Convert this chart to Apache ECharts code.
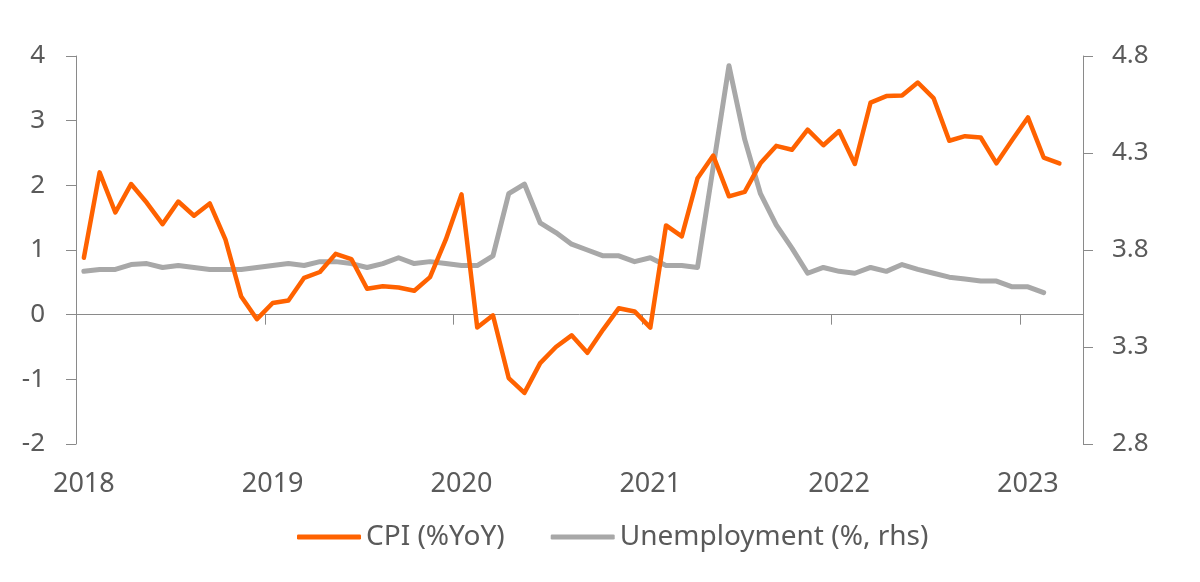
<!DOCTYPE html>
<html>
<head>
<meta charset="utf-8">
<script src="https://cdn.jsdelivr.net/npm/echarts@6/dist/echarts.min.js"></script>
<style>
  html, body { margin: 0; padding: 0; background: #ffffff; }
  #chart { width: 1200px; height: 582px; }
</style>
</head>
<body>
<div id="chart"></div>
<script>
// Monthly categories Jan 2018 .. Apr 2023
const years = ['2018', '2019', '2020', '2021', '2022', '2023'];
const months = [];
years.forEach(function (y) {
  for (let m = 1; m <= 12; m++) {
    if (y === '2023' && m > 4) break;
    months.push(y + '-' + (m < 10 ? '0' + m : m));
  }
});

// CPI (%YoY), Jan 2018 .. Mar 2023
const cpi = [
  0.88, 2.20, 1.58, 2.02, 1.73, 1.40, 1.75, 1.53, 1.72, 1.16, 0.28, -0.07,
  0.18, 0.22, 0.57, 0.66, 0.94, 0.86, 0.40, 0.44, 0.42, 0.37, 0.58, 1.16,
  1.86, -0.20, -0.01, -0.98, -1.21, -0.75, -0.50, -0.32, -0.59, -0.23, 0.10, 0.05,
  -0.20, 1.38, 1.21, 2.11, 2.46, 1.83, 1.90, 2.34, 2.61, 2.55, 2.86, 2.62,
  2.84, 2.33, 3.28, 3.38, 3.39, 3.59, 3.35, 2.69, 2.76, 2.74, 2.34, 2.70,
  3.05, 2.43, 2.34
];

// Unemployment (%), Jan 2018 .. Feb 2023
const unemployment = [
  3.69, 3.70, 3.70, 3.725, 3.73, 3.71, 3.72, 3.71, 3.70, 3.70, 3.70, 3.71,
  3.72, 3.73, 3.72, 3.74, 3.74, 3.73, 3.71, 3.73, 3.76, 3.73, 3.74, 3.73,
  3.72, 3.72, 3.77, 4.09, 4.14, 3.94, 3.89, 3.83, 3.80, 3.77, 3.77, 3.74,
  3.76, 3.72, 3.72, 3.71, 4.23, 4.75, 4.37, 4.09, 3.93, 3.81, 3.68, 3.71,
  3.69, 3.68, 3.71, 3.69, 3.725, 3.70, 3.68, 3.66, 3.65, 3.64, 3.64, 3.61,
  3.61, 3.58
];

const rightTicks = [2.8, 3.3, 3.8, 4.3, 4.8];

const FONT = 'Noto Sans';
const TEXT = '#5a5a5a';
const AXIS = '#8a8a8a';
const ORANGE = '#FF6200';
const GREY = '#A8A8A8';

const chart = echarts.init(document.getElementById('chart'), null, { renderer: 'canvas' });
chart.setOption({
  animation: false,
  backgroundColor: '#ffffff',
  textStyle: { fontFamily: FONT },
  grid: { left: 76, right: 117, top: 56, bottom: 138, containLabel: false, outerBoundsMode: 'none' },
  legend: {
    left: 292,
    top: 518,
    itemWidth: 64,
    itemHeight: 5,
    itemGap: 46,
    textStyle: { fontFamily: FONT, fontSize: 28, color: TEXT },
    data: [
      { name: 'CPI (%YoY)', icon: 'roundRect', itemStyle: { color: ORANGE } },
      { name: 'Unemployment (%, rhs)', icon: 'roundRect', itemStyle: { color: GREY } }
    ]
  },
  xAxis: {
    type: 'category',
    data: months,
    boundaryGap: true,
    axisLine: { onZero: true, onZeroAxisIndex: 0, lineStyle: { color: AXIS, width: 1 } },
    axisTick: {
      show: true,
      length: 10,
      inside: false,
      interval: function (i) { return i % 12 === 0; },
      lineStyle: { color: AXIS, width: 1 }
    },
    axisLabel: {
      interval: function (i) { return i % 12 === 0; },
      formatter: function (v) { return v.slice(0, 4); },
      margin: 27,
      fontFamily: FONT,
      fontSize: 27,
      color: TEXT
    },
    splitLine: { show: false }
  },
  yAxis: [
    {
      type: 'value',
      position: 'left',
      min: -2,
      max: 4,
      interval: 1,
      axisLine: { show: true, onZero: false, lineStyle: { color: AXIS, width: 1 } },
      axisTick: { show: true, length: 10, lineStyle: { color: AXIS, width: 1 } },
      axisLabel: { margin: 31, fontFamily: FONT, fontSize: 26, color: TEXT },
      splitLine: { show: false }
    },
    {
      type: 'value',
      position: 'right',
      min: 2.8,
      max: 4.8,
      axisLine: { show: true, onZero: false, lineStyle: { color: AXIS, width: 1 } },
      axisTick: { show: true, length: 10, customValues: rightTicks, lineStyle: { color: AXIS, width: 1 } },
      axisLabel: {
        margin: 29,
        customValues: rightTicks,
        formatter: function (v) { return Number(v).toFixed(1); },
        fontFamily: FONT,
        fontSize: 26,
        color: TEXT
      },
      splitLine: { show: false }
    }
  ],
  series: [
    {
      name: 'CPI (%YoY)',
      type: 'line',
      yAxisIndex: 0,
      data: cpi,
      symbol: 'none',
      smooth: false,
      z: 3,
      lineStyle: { color: ORANGE, width: 4.5, cap: 'round', join: 'round' },
      itemStyle: { color: ORANGE }
    },
    {
      name: 'Unemployment (%, rhs)',
      type: 'line',
      yAxisIndex: 1,
      data: unemployment,
      symbol: 'none',
      smooth: false,
      z: 2,
      lineStyle: { color: GREY, width: 5, cap: 'round', join: 'round' },
      itemStyle: { color: GREY }
    }
  ]
});
</script>
</body>
</html>
